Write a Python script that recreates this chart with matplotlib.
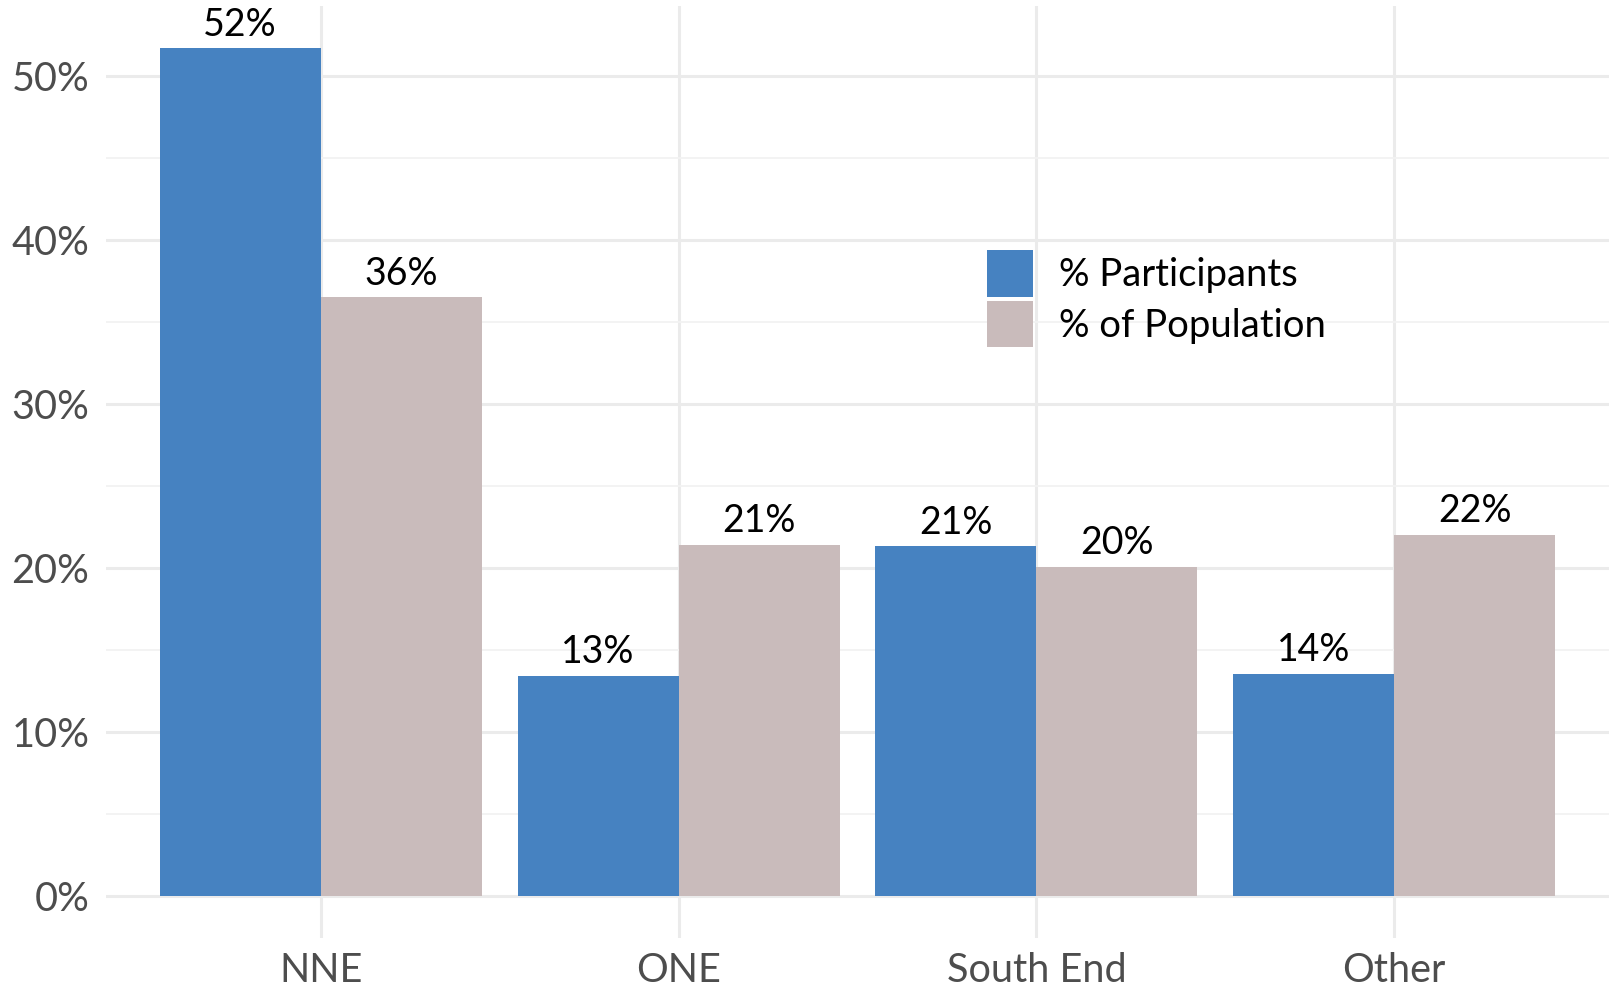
import numpy as np
import matplotlib.pyplot as plt
from matplotlib.ticker import PercentFormatter

plt.rcParams['font.family'] = ['Lato', 'DejaVu Sans']

areas = ['NNE', 'ONE', 'South End', 'Other']
participants = [0.517, 0.134, 0.213, 0.1355]
population = [0.365, 0.214, 0.2005, 0.220]
series_names = ['% Participants', '% of Population']
colors = ['#4682c1', '#c9bbbb']

fig = plt.figure(figsize=(16.15, 9.9), dpi=100)
ax = fig.add_axes([0.0656, 0.0525, 0.9307, 0.9418])

x = np.arange(1, len(areas) + 1)
w = 0.45
b1 = ax.bar(x - w/2, participants, w, color=colors[0], label=series_names[0], zorder=2)
b2 = ax.bar(x + w/2, population, w, color=colors[1], label=series_names[1], zorder=2)

for bars, vals in [(b1, participants), (b2, population)]:
    ax.bar_label(bars, labels=['%d%%' % round(v * 100) for v in vals],
                 padding=4, fontsize=27, color='black')

ax.set_xlim(0.4, 4.6)
ax.set_ylim(-0.0259, 0.543)
ax.set_xticks(x)
ax.set_xticklabels(areas)
ax.set_yticks(np.arange(0, 0.51, 0.1))
ax.set_yticks(np.arange(0.05, 0.51, 0.1), minor=True)
ax.yaxis.set_major_formatter(PercentFormatter(1.0, decimals=0))

ax.grid(True, which='major', color='#ebebeb', linewidth=2.2, zorder=0)
ax.grid(True, which='minor', axis='y', color='#f2f2f2', linewidth=1.3, zorder=0)
ax.set_axisbelow(True)
for s in ax.spines.values():
    s.set_visible(False)
ax.tick_params(axis='both', which='both', length=0, labelsize=28.5, labelcolor='#4d4d4d')
ax.tick_params(axis='y', pad=12)
ax.tick_params(axis='x', pad=10)

ax.legend(loc='upper left', bbox_to_anchor=(0.611, 0.7475), bbox_transform=fig.transFigure,
          frameon=False, fontsize=27.5, borderpad=0, borderaxespad=0,
          handlelength=1.2, handleheight=1.51, handletextpad=0.7, labelspacing=0.1)

plt.savefig('out.png', dpi=100)
